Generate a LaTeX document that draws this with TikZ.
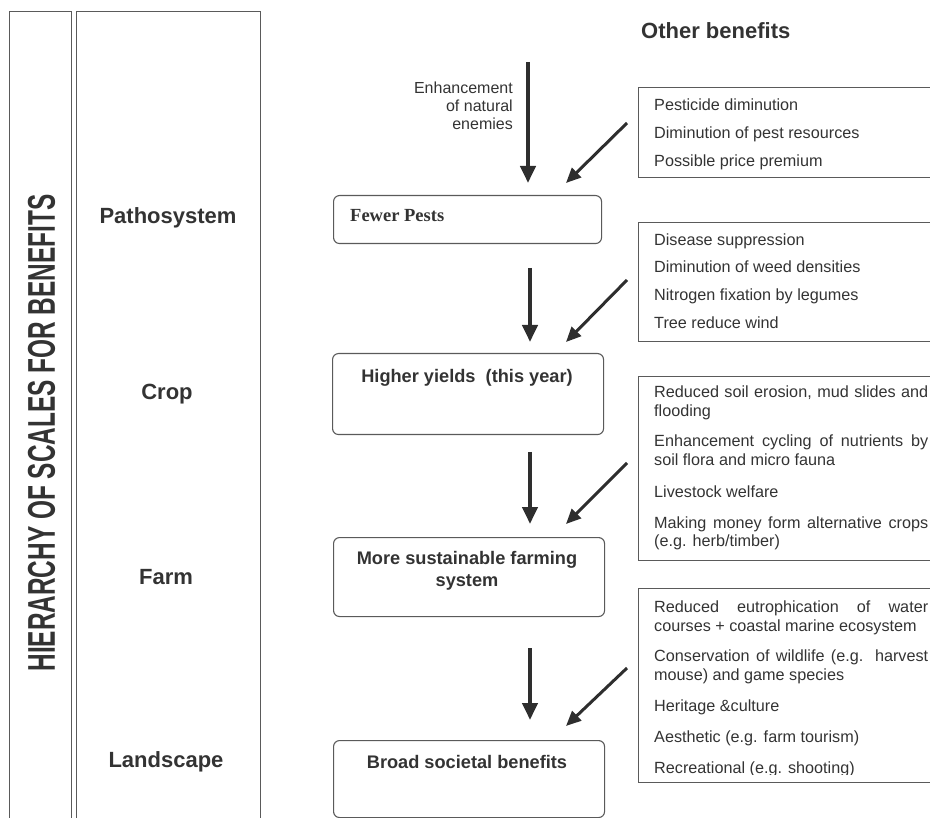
\documentclass[tikz,border=0pt]{standalone}
\usepackage{fontspec}
\setmainfont{Liberation Sans}
\newfontfamily\serifbold{Liberation Serif}
\usetikzlibrary{arrows.meta}
\definecolor{txt}{HTML}{333333}
\definecolor{linec}{HTML}{5A5A5A}
\definecolor{arrc}{HTML}{2E2E2E}
\tikzset{
  colbox/.style={draw=linec, line width=1pt},
  midbox/.style={draw=linec, line width=1.1pt, rounded corners=6pt},
  listbox/.style={draw=linec, line width=1pt},
  item/.style={anchor=base west, inner sep=0pt, text=txt, font=\fontsize{16.2}{19}\selectfont},
  lvl/.style={anchor=base, inner sep=0pt, text=txt, font=\fontsize{22}{26}\selectfont\bfseries},
  midtxt/.style={anchor=base, inner sep=0pt, text=txt, font=\fontsize{18.2}{22}\selectfont\bfseries},
  downarrow/.style={draw=arrc, line width=4pt, -{Triangle[length=17pt,width=15pt]}},
  diagarrow/.style={draw=arrc, line width=3pt, -{Triangle[length=15pt,width=13pt]}},
}
\begin{document}
\begin{tikzpicture}[x=1pt,y=-1pt]
\useasboundingbox (0,0) rectangle (930,818);
% left columns
\draw[colbox] (9,830) -- (9,12) -- (71,12) -- (71,830);
\draw[colbox] (76,830) -- (76,12) -- (260,12) -- (260,830);
\node[rotate=90, inner sep=0pt, text=txt] (title) at (41.5,433)
  {\resizebox{477pt}{27pt}{\bfseries HIERARCHY OF SCALES FOR BENEFITS}};
\node[lvl] (l1) at (168,224) {Pathosystem};
\node[lvl] (l2) at (167,400) {Crop};
\node[lvl] (l3) at (166,584) {Farm};
\node[lvl] (l4) at (166,767) {Landscape};
% header
\node[anchor=base west, inner sep=0pt, text=txt, font=\fontsize{22}{26}\selectfont\bfseries] (hdr) at (641,39) {Other benefits};
\node[anchor=base east, inner sep=0pt, text=txt, font=\fontsize{16}{18}\selectfont, align=right] (enh) at (513,130)
  {Enhancement\\[0pt]of natural\\[0pt]enemies};
% middle boxes
\node[midbox, anchor=north west, minimum width=268pt, minimum height=48pt] (b1) at (333,195) {};
\node[midbox, anchor=north west, minimum width=271pt, minimum height=81pt] (b2) at (332,353) {};
\node[midbox, anchor=north west, minimum width=271pt, minimum height=79pt] (b3) at (333,537) {};
\node[midbox, anchor=north west, minimum width=271pt, minimum height=77pt] (b4) at (333,740) {};
\node[anchor=base west, inner sep=0pt, text=txt, font=\fontsize{18.5}{22}\selectfont\serifbold\bfseries] (t1) at (350,222) {Fewer Pests};
\node[midtxt] (t2) at (467,383) {Higher yields\ \ (this year)};
\node[midtxt] (t3a) at (467,564) {More sustainable farming};
\node[midtxt] (t3b) at (467,586) {system};
\node[midtxt] (t4) at (467,768) {Broad societal benefits};
% right list boxes
\node[listbox, anchor=north west, minimum width=300pt, minimum height=90pt] (r1) at (638,87) {};
\node[listbox, anchor=north west, minimum width=300pt, minimum height=119pt] (r2) at (638,222) {};
\node[listbox, anchor=north west, minimum width=300pt, minimum height=184pt] (r3) at (638,376) {};
\node[listbox, anchor=north west, minimum width=300pt, minimum height=194pt] (r4) at (638,588) {};
% list items
\node[item] (i11) at (654,111) {Pesticide diminution};
\node[item] (i12) at (654,139) {Diminution of pest resources};
\node[item] (i13) at (654,167) {Possible price premium};
\node[item] (i21) at (654,246) {Disease suppression};
\node[item] (i22) at (654,273) {Diminution of weed densities};
\node[item] (i23) at (654,301) {Nitrogen fixation by legumes};
\node[item] (i24) at (654,329) {Tree reduce wind};
\node[item] (i31) at (654,398) {\makebox[274pt][s]{Reduced soil erosion, mud slides and}};
\node[item] (i31b) at (654,417) {flooding};
\node[item] (i32) at (654,447) {\makebox[274pt][s]{Enhancement cycling of nutrients by}};
\node[item] (i32b) at (654,466) {soil flora and micro fauna};
\node[item] (i33) at (654,497) {Livestock welfare};
\node[item] (i34) at (654,528) {\makebox[274pt][s]{Making money form alternative crops}};
\node[item] (i34b) at (654,547) {(e.g. herb/timber)};
\node[item] (i41) at (654,612) {\makebox[274pt][s]{Reduced eutrophication of water}};
\node[item] (i41b) at (654,631) {courses + coastal marine ecosystem};
\node[item] (i42) at (654,661) {\makebox[274pt][s]{Conservation of wildlife (e.g. harvest}};
\node[item] (i42b) at (654,680) {mouse) and game species};
\node[item] (i43) at (654,711) {Heritage \&culture};
\node[item] (i44) at (654,742) {Aesthetic (e.g. farm tourism)};
\begin{scope}
\clip (640,740) rectangle (930,774);
\node[item] (i45) at (654,773) {Recreational (e.g. shooting)};
\end{scope}
% arrow coordinates
\coordinate (s0) at (528,62);  \coordinate (e0) at (528,183);
\coordinate (s1) at (530,268); \coordinate (e1) at (530,342);
\coordinate (s2) at (530,452); \coordinate (e2) at (530,524);
\coordinate (s3) at (530,648); \coordinate (e3) at (530,720);
\coordinate (d0s) at (627,123); \coordinate (d0e) at (566,183);
\coordinate (d1s) at (627,280); \coordinate (d1e) at (566,342);
\coordinate (d2s) at (627,463); \coordinate (d2e) at (566,524);
\coordinate (d3s) at (627,668); \coordinate (d3e) at (566,726);
\draw[downarrow] (s0) -- (e0);
\draw[downarrow] (s1) -- (e1);
\draw[downarrow] (s2) -- (e2);
\draw[downarrow] (s3) -- (e3);
\draw[diagarrow] (d0s) -- (d0e);
\draw[diagarrow] (d1s) -- (d1e);
\draw[diagarrow] (d2s) -- (d2e);
\draw[diagarrow] (d3s) -- (d3e);
\end{tikzpicture}
\end{document}
